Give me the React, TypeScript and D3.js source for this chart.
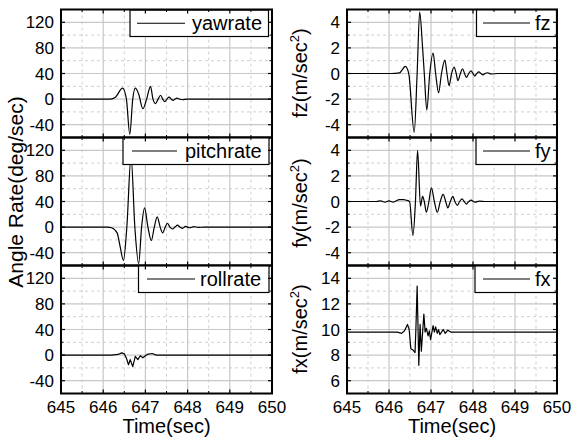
import React from 'react';
import * as d3 from 'd3';

// ---------- data ----------
const yawTime = [645, 645.8, 646.17, 646.29, 646.46, 646.55, 646.63, 646.70, 646.76, 646.84, 646.94, 647.03, 647.12, 647.18, 647.24, 647.30, 647.36, 647.41, 647.46, 647.51, 647.56, 647.61, 647.66, 647.70, 647.75, 647.81, 647.87, 647.99, 650];
const yawVal = [0, 0, 0, 3, 17, 0, -55, 0, 17, 8, -15, 0, 20, 0, -7, 0, 6, 0, -4, 0, 3, 0, -2, 0, 1.5, 0, -1, 0, 0];

const pitchTime = [645, 646.1, 646.2, 646.33, 646.40, 646.48, 646.56, 646.66, 646.75, 646.84, 646.91, 646.98, 647.06, 647.14, 647.21, 647.28, 647.35, 647.41, 647.47, 647.52, 647.58, 647.64, 647.70, 647.76, 647.82, 647.88, 647.95, 648.05, 648.15, 648.25, 648.4, 650];
const pitchVal = [0, 0, -1, -9, -30, -52, 0, 110, 0, -57, 0, 30, 0, -21, 0, 16, 0, -9, 0, 6, 0, -3, 0, 3, 0, -2, 1, -1, 0.6, -0.4, 0, 0];

const rollTime = [645, 646.2, 646.35, 646.44, 646.50, 646.55, 646.60, 646.64, 646.70, 646.76, 646.82, 646.88, 646.94, 647.04, 647.16, 647.26, 647.32, 650];
const rollVal = [0, 0, 1, 3.5, 2, -5, -15, -7, -18, -2, -7, -1, -4, 1, 2.5, 0, 0, 0];

const fzTime = [645, 646.05, 646.25, 646.39, 646.47, 646.60, 646.67, 646.73, 646.80, 646.84, 646.90, 646.97, 647.05, 647.11, 647.18, 647.25, 647.33, 647.38, 647.43, 647.49, 647.55, 647.60, 647.64, 647.70, 647.75, 647.80, 647.84, 647.90, 647.95, 648.0, 648.04, 648.09, 648.14, 648.19, 648.24, 648.29, 648.34, 648.44, 648.6, 650];
const fzVal = [0, 0, 0.05, 0.55, 0, -4.6, 0, 4.8, 2.0, 0, -2.85, 0, 1.6, 0, -1.5, 0, 1.05, 0, -0.95, 0, 0.5, 0, -0.55, 0, 0.37, 0, -0.3, 0, 0.2, 0, -0.2, 0, 0.12, 0, -0.1, 0, 0.06, -0.04, 0, 0];

const fyTime = [645, 645.7, 645.8, 645.9, 646.0, 646.1, 646.25, 646.35, 646.41, 646.49, 646.57, 646.63, 646.68, 646.75, 646.80, 646.84, 646.89, 646.95, 647.01, 647.08, 647.15, 647.22, 647.29, 647.35, 647.40, 647.46, 647.52, 647.57, 647.63, 647.68, 647.74, 647.79, 647.84, 647.9, 647.95, 648.05, 648.15, 648.3, 650];
const fyVal = [0, 0, 0.05, -0.05, 0.05, -0.05, 0.15, 0.15, 0.1, 0, -2.65, 0, 4.0, -0.36, 0.4, 0, -0.83, 0, 1.07, 0, -0.84, 0, 0.55, 0, -0.5, 0, 0.4, 0, -0.3, 0, 0.2, 0, -0.2, 0, 0.1, -0.05, 0.03, 0, 0];

const fxTime = [645, 646.2, 646.30, 646.37, 646.44, 646.48, 646.52, 646.57, 646.62, 646.64, 646.67, 646.71, 646.74, 646.77, 646.83, 646.86, 646.89, 646.93, 646.96, 646.99, 647.05, 647.08, 647.11, 647.15, 647.18, 647.21, 647.25, 647.29, 647.34, 647.40, 647.47, 650];
const fxVal = [9.8, 9.8, 9.7, 9.9, 10.4, 10.0, 8.5, 8.4, 8.2, 10.0, 13.4, 7.2, 10.4, 8.3, 11.2, 9.8, 10.1, 9.5, 9.9, 9.2, 10.3, 9.8, 10.2, 9.7, 10.0, 9.6, 9.8, 10.0, 9.7, 9.95, 9.8, 9.8];

const timeTicks = [645, 646, 647, 648, 649, 650];
const angleTicks = [-40, 0, 40, 80, 120];
const accelTicks = [-4, -2, 0, 2, 4];
const fxTicks = [6, 8, 10, 12, 14];

// ---------- layout ----------
const W = 571;
const H = 439;
const COLS = [{ x0: 61, x1: 272 }, { x0: 347, x1: 557 }];
const TOPS = [9.5, 137.5, 265.5];
const PH = 128;
const FONT = "Arial, 'Liberation Sans', sans-serif";

type PanelDef = {
  name: string;
  time: number[];
  val: number[];
  domain: [number, number];
  ticks: number[];
  minorStep: number;
  col: number;
  row: number;
  smooth: boolean;
  legendX0: number;
  legendX1: number;
  legendLine: [number, number];
  legendText: number;
};

const panels: PanelDef[] = [
  { name: 'yawrate', time: yawTime, val: yawVal, domain: [-60, 140], ticks: angleTicks, minorStep: 20, col: 0, row: 0, smooth: true, legendX0: 130, legendX1: 268.5, legendLine: [137, 185], legendText: 192 },
  { name: 'pitchrate', time: pitchTime, val: pitchVal, domain: [-60, 140], ticks: angleTicks, minorStep: 20, col: 0, row: 1, smooth: true, legendX0: 123, legendX1: 269, legendLine: [132, 177], legendText: 185 },
  { name: 'rollrate', time: rollTime, val: rollVal, domain: [-60, 140], ticks: angleTicks, minorStep: 20, col: 0, row: 2, smooth: false, legendX0: 138.5, legendX1: 269, legendLine: [147, 195], legendText: 200 },
  { name: 'fz', time: fzTime, val: fzVal, domain: [-5, 5], ticks: accelTicks, minorStep: 1, col: 1, row: 0, smooth: true, legendX0: 476.5, legendX1: 556.5, legendLine: [483, 530], legendText: 535 },
  { name: 'fy', time: fyTime, val: fyVal, domain: [-5, 5], ticks: accelTicks, minorStep: 1, col: 1, row: 1, smooth: true, legendX0: 476, legendX1: 556.5, legendLine: [483, 530], legendText: 535 },
  { name: 'fx', time: fxTime, val: fxVal, domain: [5, 15], ticks: fxTicks, minorStep: 1, col: 1, row: 2, smooth: false, legendX0: 475, legendX1: 556.5, legendLine: [483, 530], legendText: 535 },
];

const Panel: React.FC<{ p: PanelDef }> = ({ p }) => {
  const { x0, x1 } = COLS[p.col];
  const top = TOPS[p.row];
  const bottom = top + PH;
  const x = d3.scaleLinear().domain([645, 650]).range([x0, x1]);
  const y = d3.scaleLinear().domain(p.domain).range([bottom, top]);
  const pts: [number, number][] = p.time.map((t, i) => [t, p.val[i]]);
  const line = d3
    .line<[number, number]>()
    .x((d) => x(d[0]))
    .y((d) => y(d[1]))
    .curve(p.smooth ? d3.curveMonotoneX : d3.curveLinear);

  const xMajor = d3.range(645, 650.01, 1);
  const xMinor = d3.range(645.5, 650, 1);
  const yMajor = p.ticks;
  const yAll = d3.range(Math.ceil(p.domain[0] / p.minorStep) * p.minorStep, p.domain[1] + 1e-6, p.minorStep);
  const yMinor = yAll.filter((v) => !yMajor.includes(v) && v > p.domain[0] && v < p.domain[1]);
  const yMaj = yMajor.filter((v) => v > p.domain[0] && v < p.domain[1]);
  const TM = 4;
  const Tm = 2.5;
  const legTop = top + (p.row === 0 && p.col === 0 ? 0.5 : 0);
  const legBottom = top + 27;
  const legMid = (legTop + legBottom) / 2;

  return (
    <g>
      {/* grid */}
      {xMinor.map((v) => (
        <line key={'gxm' + v} x1={x(v)} x2={x(v)} y1={top} y2={bottom} stroke="#cfcfcf" strokeWidth={1} strokeDasharray="3,3" />
      ))}
      {yMinor.map((v) => (
        <line key={'gym' + v} x1={x0} x2={x1} y1={y(v)} y2={y(v)} stroke="#cfcfcf" strokeWidth={1} strokeDasharray="3,3" />
      ))}
      {xMajor.slice(1, -1).map((v) => (
        <line key={'gxM' + v} x1={x(v)} x2={x(v)} y1={top} y2={bottom} stroke="#c8c8c8" strokeWidth={1.2} />
      ))}
      {yMaj.map((v) => (
        <line key={'gyM' + v} x1={x0} x2={x1} y1={y(v)} y2={y(v)} stroke="#c8c8c8" strokeWidth={1.2} />
      ))}
      {/* data */}
      <path d={line(pts) || ''} fill="none" stroke="#000" strokeWidth={1.2} strokeLinejoin="round" />
      {/* legend */}
      <rect x={p.legendX0} y={legTop} width={p.legendX1 - p.legendX0} height={legBottom - legTop} fill="#fff" stroke="#000" strokeWidth={1.2} />
      <line x1={p.legendLine[0]} x2={p.legendLine[1]} y1={legMid} y2={legMid} stroke="#000" strokeWidth={1.2} />
      <text x={p.legendText} y={legMid + 7} fontSize={20} fontFamily={FONT} fill="#000">
        {p.name}
      </text>
      {/* ticks */}
      {xMajor.map((v) => (
        <g key={'tx' + v}>
          <line x1={x(v)} x2={x(v)} y1={bottom} y2={bottom - TM} stroke="#000" strokeWidth={1.2} />
          <line x1={x(v)} x2={x(v)} y1={top} y2={top + TM} stroke="#000" strokeWidth={1.2} />
        </g>
      ))}
      {xMinor.map((v) => (
        <g key={'txm' + v}>
          <line x1={x(v)} x2={x(v)} y1={bottom} y2={bottom - Tm} stroke="#000" strokeWidth={1} />
          <line x1={x(v)} x2={x(v)} y1={top} y2={top + Tm} stroke="#000" strokeWidth={1} />
        </g>
      ))}
      {yMaj.map((v) => (
        <g key={'ty' + v}>
          <line x1={x0} x2={x0 + TM} y1={y(v)} y2={y(v)} stroke="#000" strokeWidth={1.2} />
          <line x1={x1} x2={x1 - TM} y1={y(v)} y2={y(v)} stroke="#000" strokeWidth={1.2} />
        </g>
      ))}
      {yMinor.map((v) => (
        <g key={'tym' + v}>
          <line x1={x0} x2={x0 + Tm} y1={y(v)} y2={y(v)} stroke="#000" strokeWidth={1} />
          <line x1={x1} x2={x1 - Tm} y1={y(v)} y2={y(v)} stroke="#000" strokeWidth={1} />
        </g>
      ))}
      {/* frame */}
      <rect x={x0} y={top} width={x1 - x0} height={PH} fill="none" stroke="#000" strokeWidth={2} />
      {/* y tick labels */}
      {p.ticks.map((v) => (
        <text key={'yl' + v} x={x0 - 7} y={y(v) + 6} textAnchor="end" fontSize={17} fontFamily={FONT} fill="#000">
          {v}
        </text>
      ))}
      {/* x tick labels for bottom row */}
      {p.row === 2 &&
        timeTicks.map((v) => (
          <text key={'xl' + v} x={x(v)} y={412.5} textAnchor="middle" fontSize={17} fontFamily={FONT} fill="#000">
            {v}
          </text>
        ))}
      {p.row === 2 && (
        <text x={(x0 + x1) / 2} y={433} textAnchor="middle" fontSize={20} fontFamily={FONT} fill="#000">
          Time(sec)
        </text>
      )}
    </g>
  );
};

const AccelLabel: React.FC<{ name: string; cy: number }> = ({ name, cy }) => (
  <text transform={`translate(307,${cy}) rotate(-90)`} textAnchor="middle" fontSize={20} fontFamily={FONT} fill="#000">
    {name}(m/sec
    <tspan fontSize={13} dy={-8}>2</tspan>
    <tspan dy={8}>)</tspan>
  </text>
);

export default function App() {
  return (
    <svg width={W} height={H} style={{ position: 'absolute', left: 0, top: 0, background: '#fff' }}>
      <rect x={0} y={0} width={W} height={H} fill="#fff" />
      {panels.map((p) => (
        <Panel key={p.name} p={p} />
      ))}
      <text transform="translate(23,192) rotate(-90)" textAnchor="middle" fontSize={21} fontFamily={FONT} fill="#000">
        Angle Rate(deg/sec)
      </text>
      <AccelLabel name="fz" cy={73} />
      <AccelLabel name="fy" cy={203} />
      <AccelLabel name="fx" cy={329} />
    </svg>
  );
}
